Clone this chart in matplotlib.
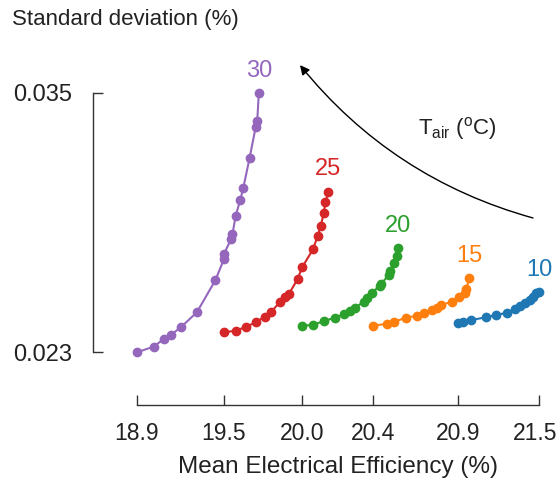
import numpy as np
from matplotlib import pyplot as plt
from matplotlib import transforms

plt.rcParams['font.family'] = ['Liberation Sans', 'DejaVu Sans']
plt.rcParams['mathtext.fontset'] = 'custom'
plt.rcParams['mathtext.rm'] = 'Liberation Sans'
plt.rcParams['mathtext.it'] = 'Liberation Sans'

# air temperatures (degC) and their colours
temps = [30, 25, 20, 15, 10]
colors = ['#9467bd', '#d62728', '#2ca02c', '#ff7f0e', '#1f77b4']

# mean electrical efficiency (%) per series
eff_30 = [18.90, 19.01, 19.08, 19.12, 19.19, 19.29, 19.41, 19.465, 19.465, 19.51, 19.52, 19.54, 19.57, 19.59, 19.63, 19.67, 19.68, 19.69]
eff_25 = [19.465, 19.54, 19.61, 19.67, 19.73, 19.77, 19.83, 19.86, 19.885, 19.94, 19.97, 20.04, 20.07, 20.09, 20.11, 20.12, 20.14]
eff_20 = [19.97, 20.04, 20.11, 20.18, 20.24, 20.28, 20.31, 20.37, 20.39, 20.42, 20.47, 20.48, 20.53, 20.54, 20.565, 20.58, 20.59]
eff_15 = [20.43, 20.52, 20.565, 20.64, 20.71, 20.76, 20.81, 20.84, 20.87, 20.94, 20.985, 21.02, 21.03, 21.05]
eff_10 = [20.975, 21.01, 21.06, 21.16, 21.22, 21.29, 21.345, 21.38, 21.41, 21.44, 21.46, 21.48, 21.50]

# standard deviation (%) per series
std_30 = [0.02300, 0.02327, 0.02364, 0.02380, 0.02419, 0.02486, 0.02635, 0.02732, 0.02756, 0.02823, 0.02847, 0.02931, 0.03005, 0.03062, 0.03198, 0.03343, 0.03372, 0.03500]
std_25 = [0.02393, 0.02401, 0.02419, 0.02440, 0.02466, 0.02489, 0.02535, 0.02555, 0.02571, 0.02639, 0.02694, 0.02777, 0.02839, 0.02886, 0.02946, 0.02996, 0.03044]
std_20 = [0.02424, 0.02427, 0.02446, 0.02460, 0.02477, 0.02492, 0.02507, 0.02535, 0.02552, 0.02575, 0.02608, 0.02618, 0.02658, 0.02677, 0.02713, 0.02748, 0.02782]
std_15 = [0.02424, 0.02433, 0.02442, 0.02461, 0.02470, 0.02484, 0.02495, 0.02504, 0.02520, 0.02535, 0.02555, 0.02574, 0.02594, 0.02643]
std_10 = [0.02435, 0.02441, 0.02450, 0.02463, 0.02472, 0.02484, 0.02500, 0.02515, 0.02528, 0.02543, 0.02558, 0.02574, 0.02581]

x_tick_labels = ['18.9', '19.5', '20.0', '20.4', '20.9', '21.5']
y_tick_labels = ['0.023', '0.035']

effs = [eff_30, eff_25, eff_20, eff_15, eff_10]
stds = [std_30, std_25, std_20, std_15, std_10]

fig = plt.figure(figsize=(5.59, 4.79), dpi=100)
ax = fig.add_axes([0.1664, 0.1545, 0.8175, 0.7411])

for t, c, x, y in zip(temps, colors, effs, stds):
    ax.plot(x, y, '-o', color=c, lw=1.5, ms=6)
    i = int(np.argmax(y))
    ax.annotate(str(t), (x[i], y[i]), xytext=(0, 16), textcoords='offset points',
                ha='center', va='center', color=c, fontsize=17)

ax.set_xlim(18.619, 21.571)
ax.set_ylim(0.020572, 0.036988)

# ticks at the start of each series + the overall max
x_ticks = sorted(min(e) for e in effs) + [max(max(e) for e in effs)]
ax.set_xticks(x_ticks)
ax.set_xticklabels(x_tick_labels)
y_all = np.concatenate(stds)
ax.set_yticks([y_all.min(), y_all.max()])
ax.set_yticklabels(y_tick_labels)

for s in ['top', 'right']:
    ax.spines[s].set_visible(False)
ax.spines['bottom'].set_bounds(x_ticks[0], x_ticks[-1])
ax.spines['left'].set_bounds(y_all.min(), y_all.max())
for s in ['bottom', 'left']:
    ax.spines[s].set_color('0.2')
    ax.spines[s].set_linewidth(1.0)

ax.tick_params(axis='x', direction='in', length=7, width=1, color='0.2',
               pad=12, labelsize=16.5, labelcolor='#222222')
ax.tick_params(axis='y', direction='in', length=7, width=1, color='0.2',
               pad=15, labelsize=17, labelcolor='#222222')

# keep the last x label inside the figure
last = ax.get_xticklabels()[-1]
last.set_transform(last.get_transform() +
                   transforms.ScaledTranslation(-4 / 100, 0, fig.dpi_scale_trans))

# x label centred under the trimmed spine
ax.set_xlabel('Mean Electrical Efficiency (%)', fontsize=17.5, color='#222222', labelpad=8)
ax.xaxis.label.set_x(0.535)
fig.text(12 / 559, 1 - 20 / 479, 'Standard deviation (%)', fontsize=16,
         color='#222222', ha='left', va='center')

# arrow showing increasing air temperature
ax.annotate('', xy=(19.956, 0.03629), xytext=(21.461, 0.02922),
            arrowprops=dict(arrowstyle='-|>', color='black', lw=1.0,
                            connectionstyle='arc3,rad=-0.16',
                            mutation_scale=14, shrinkA=0, shrinkB=0))
ax.text(20.97, 0.03338, r'T$_{\rm air}$ ($^{\rm o}$C)', fontsize=16,
        color='#222222', ha='center', va='center')

fig.savefig('out.png', dpi=100)
